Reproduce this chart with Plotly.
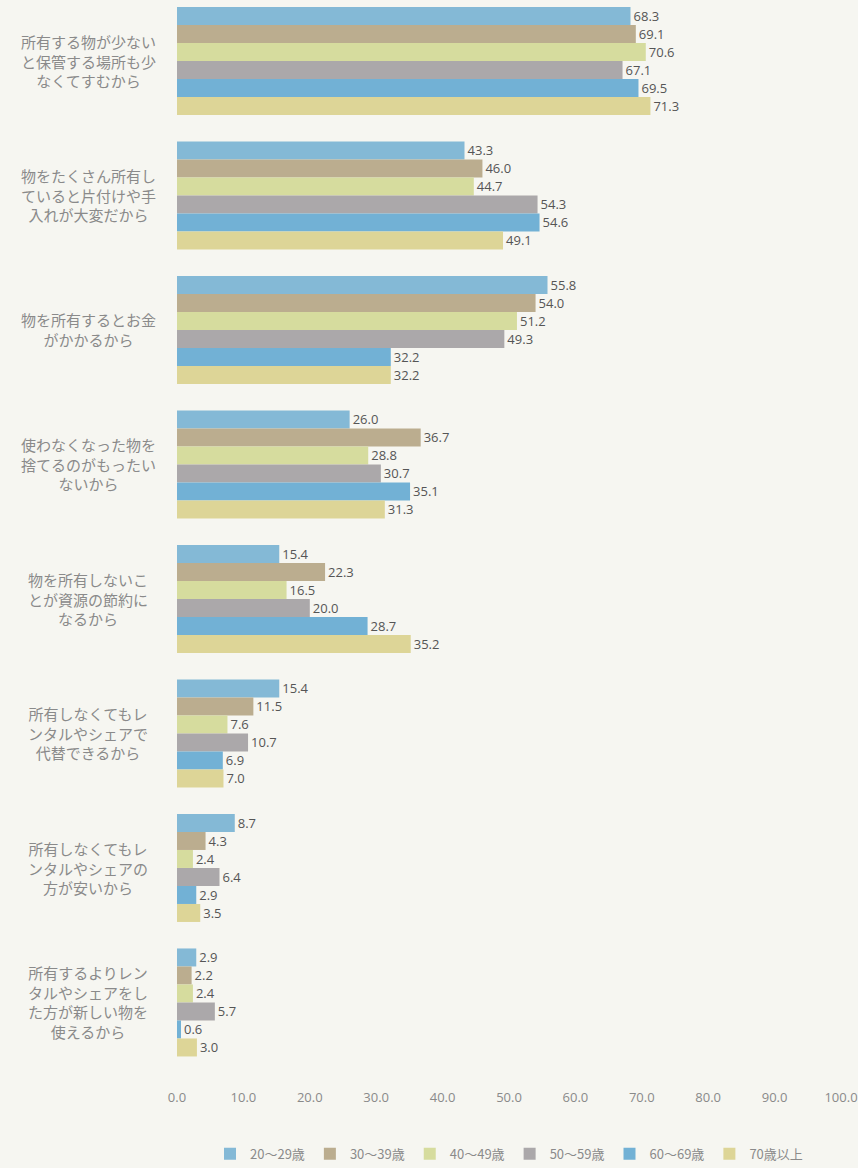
import plotly.graph_objects as go

categories = [
    "所有する物が少ない<br>と保管する場所も少<br>なくてすむから",
    "物をたくさん所有し<br>ていると片付けや手<br>入れが大変だから",
    "物を所有するとお金<br>がかかるから",
    "使わなくなった物を<br>捨てるのがもったい<br>ないから",
    "物を所有しないこ<br>とが資源の節約に<br>なるから",
    "所有しなくてもレ<br>ンタルやシェアで<br>代替できるから",
    "所有しなくてもレ<br>ンタルやシェアの<br>方が安いから",
    "所有するよりレン<br>タルやシェアをし<br>た方が新しい物を<br>使えるから",
]

series_names = ["20～29歳", "30～39歳", "40～49歳", "50～59歳", "60～69歳", "70歳以上"]

age_20s = [68.3, 43.3, 55.8, 26.0, 15.4, 15.4, 8.7, 2.9]
age_30s = [69.1, 46.0, 54.0, 36.7, 22.3, 11.5, 4.3, 2.2]
age_40s = [70.6, 44.7, 51.2, 28.8, 16.5, 7.6, 2.4, 2.4]
age_50s = [67.1, 54.3, 49.3, 30.7, 20.0, 10.7, 6.4, 5.7]
age_60s = [69.5, 54.6, 32.2, 35.1, 28.7, 6.9, 2.9, 0.6]
age_70p = [71.3, 49.1, 32.2, 31.3, 35.2, 7.0, 3.5, 3.0]

series_values = [age_20s, age_30s, age_40s, age_50s, age_60s, age_70p]
colors = ["#84b9d6", "#bbad8f", "#d6dc9e", "#aba8aa", "#72b1d5", "#ddd597"]

x_ticks = [0, 10, 20, 30, 40, 50, 60, 70, 80, 90, 100]

idx = list(range(len(categories)))

fig = go.Figure()
for name, vals, col in zip(series_names, series_values, colors):
    fig.add_trace(go.Bar(
        y=idx, x=vals, name=name, orientation="h",
        marker=dict(color=col, line=dict(width=0)),
        texttemplate="%{x:.1f}", textposition="outside",
        textfont=dict(family="Open Sans, Noto Sans", size=13, color="#555555"),
        cliponaxis=False,
    ))

for i, lab in enumerate(categories):
    fig.add_annotation(
        x=-0.134, xref="paper", y=i, yref="y",
        text=lab, showarrow=False, xanchor="center", yanchor="middle",
        align="center",
        font=dict(family="Noto Sans CJK JP", size=15, color="#8a8a8a"),
    )

fig.update_layout(
    width=858, height=1168,
    margin=dict(l=177, r=17, t=0, b=80),
    paper_bgcolor="#f6f6f1", plot_bgcolor="#f6f6f1",
    barmode="group", bargap=0.197, bargroupgap=0,
    showlegend=True,
    legend=dict(
        orientation="h", xref="paper", x=0.5, xanchor="center",
        yref="container", y=0.025, yanchor="top",
        font=dict(family="Noto Sans CJK JP", size=13, color="#8a8a8a"),
        itemwidth=30, bgcolor="rgba(0,0,0,0)",
    ),
    xaxis=dict(
        range=[0, 100], tickvals=x_ticks, tickformat=".1f",
        showgrid=False, zeroline=False, showline=False,
        tickfont=dict(family="Open Sans, Noto Sans", size=13, color="#8a8a8a"),
        ticks="",
    ),
    yaxis=dict(
        range=[7.636, -0.4535], showticklabels=False, showgrid=False,
        zeroline=False, showline=False, ticks="",
    ),
)

fig.write_html("out.html")
